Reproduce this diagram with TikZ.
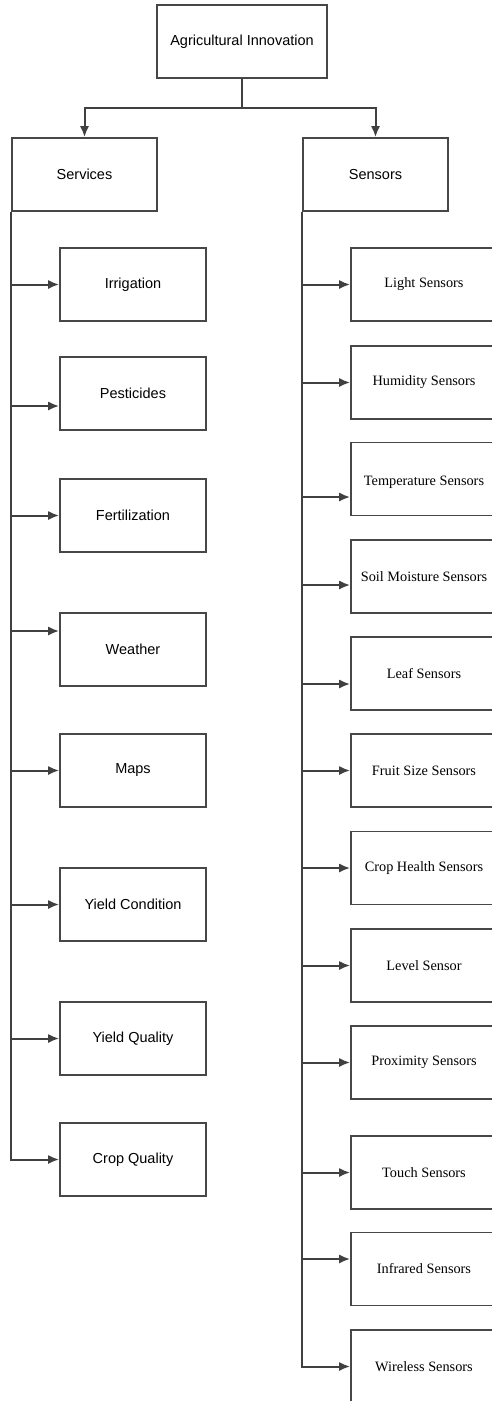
\documentclass[tikz,border=0pt]{standalone}
\usepackage{fontspec}
\usetikzlibrary{arrows.meta}
\newfontfamily\helvfont{Liberation Sans}
\newfontfamily\romanfont{Liberation Serif}

\begin{document}
\begin{tikzpicture}[> = {Latex[length = 11pt, width = 9pt]}, x = 1pt, y = -1pt,
	line width = 1.6pt,
	box/.style = {draw = black!72, rectangle, inner sep = 0pt, minimum height = 73pt},
	head/.style = {box, minimum width = 145pt, font = \helvfont\fontsize{14.5}{17}\selectfont},
	service/.style = {box, minimum width = 146pt, font = \helvfont\fontsize{14.5}{17}\selectfont},
	sensor/.style = {box, minimum width = 146pt, font = \romanfont\fontsize{14.3}{17}\selectfont},
	link/.style = {->, draw = black!75, line width = 2pt}]

	\useasboundingbox (0, 0) rectangle (492, 1401);

	% Root w/fork
	
	\node [head, minimum width = 170pt] (innovation) at (242, 41.5) {Agricultural Innovation};
	\coordinate (fork) at (242, 108);
	\draw [black!75, line width = 2pt] (innovation) -- (fork);
	
	\node [head] (services) at (84.5, 174.5) {Services};
	\node [head] (sensors) at (375.5, 174.5) {Sensors};
	\draw [link] (fork) -| (services);
	\draw [link] (fork) -| (sensors);
	
	% Services branch
	
	\node [service] (irrigation) at (133, 284.5) {Irrigation};
	\node [service] (pesticides) at (133, 393.5) {Pesticides};
	\node [service] (fertilization) at (133, 515.5) {Fertilization};
	\node [service] (weather) at (133, 649.5) {Weather};
	\node [service] (maps) at (133, 770.5) {Maps};
	\node [service] (yield-cond) at (133, 904.5) {Yield Condition};
	\node [service] (yield-qual) at (133, 1038.5) {Yield Quality};
	\node [service] (crop-qual) at (133, 1159.5) {Crop Quality};
	
	\draw [link] (services.south west) |- (irrigation.west);
	\draw [link] (services.south west) |- ([yshift = -12.5pt] pesticides.west);
	\draw [link] (services.south west) |- (fertilization.west);
	\draw [link] (services.south west) |- ([yshift = 18.5pt] weather.west);
	\draw [link] (services.south west) |- (maps.west);
	\draw [link] (services.south west) |- (yield-cond.west);
	\draw [link] (services.south west) |- (yield-qual.west);
	\draw [link] (services.south west) |- (crop-qual.west);
	
	% Sensors branch (runs off the right edge)
	
	\node [sensor] (light) at (424, 284.5) {Light Sensors};
	\node [sensor] (humidity) at (424, 382.5) {Humidity Sensors};
	\node [sensor] (temperature) at (424, 479) {\raisebox{-16pt}{Temperature Sensors}};
	\node [sensor] (soil) at (424, 576.5) {Soil Moisture Sensors};
	\node [sensor] (leaf) at (424, 673.5) {Leaf Sensors};
	\node [sensor] (fruit) at (424, 770.5) {Fruit Size Sensors};
	\node [sensor] (crop-health) at (424, 868) {Crop Health Sensors};
	\node [sensor] (level) at (424, 965.5) {Level Sensor};
	\node [sensor] (proximity) at (424, 1062.5) {Proximity Sensors};
	\node [sensor] (touch) at (424, 1172.5) {Touch Sensors};
	\node [sensor] (infrared) at (424, 1269) {Infrared Sensors};
	\node [sensor] (wireless) at (424, 1366.5) {Wireless Sensors};
	
	\draw [link] (sensors.south west) |- (light.west);
	\draw [link] (sensors.south west) |- (humidity.west);
	\draw [link] (sensors.south west) |- ([yshift = -18pt] temperature.west);
	\draw [link] (sensors.south west) |- ([yshift = -8.5pt] soil.west);
	\draw [link] (sensors.south west) |- ([yshift = -10.5pt] leaf.west);
	\draw [link] (sensors.south west) |- (fruit.west);
	\draw [link] (sensors.south west) |- (crop-health.west);
	\draw [link] (sensors.south west) |- (level.west);
	\draw [link] (sensors.south west) |- (proximity.west);
	\draw [link] (sensors.south west) |- (touch.west);
	\draw [link] (sensors.south west) |- ([yshift = 10pt] infrared.west);
	\draw [link] (sensors.south west) |- (wireless.west);
	
\end{tikzpicture}
\end{document}
